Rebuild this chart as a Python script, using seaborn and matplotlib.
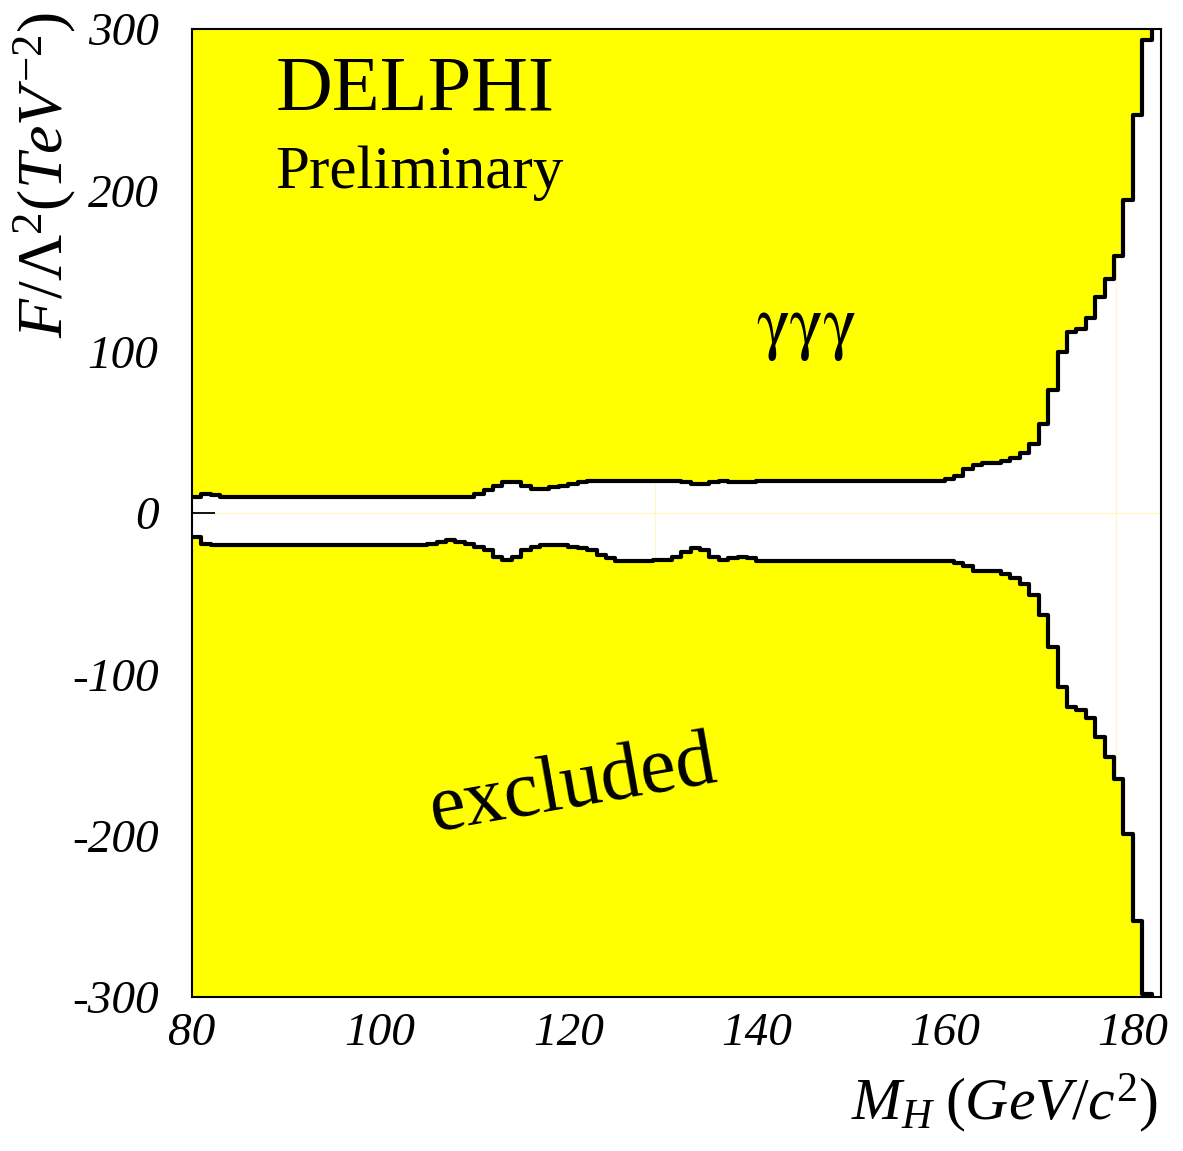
import numpy as np
import pandas as pd
import seaborn as sns
import matplotlib
matplotlib.use("Agg")
import matplotlib.pyplot as plt
from matplotlib.ticker import MultipleLocator

# Higgs mass bins (lower bin edge, GeV/c^2); last entry closes the histogram
MASS = list(range(80, 183))

# upper edge of the allowed band, F/Lambda^2 in TeV^-2 (400 = off scale)
UPPER = [10, 12, 11, 10, 10, 10, 10, 10, 10, 10,
         10, 10, 10, 10, 10, 10, 10, 10, 10, 10,
         10, 10, 10, 10, 10, 10, 10, 10, 10, 10,
         12, 14, 17, 19, 19, 17, 15, 15, 16, 17,
         18, 19, 20, 20, 20, 20, 20, 20, 20, 20,
         20, 20, 19, 18, 18, 19, 20, 19, 19, 19,
         20, 20, 20, 20, 20, 20, 20, 20, 20, 20,
         20, 20, 20, 20, 20, 20, 20, 20, 20, 20,
         21, 23, 27, 30, 31, 31, 32, 34, 37, 43,
         55, 76, 100, 112, 114, 121, 134, 145, 159, 194,
         247, 293, 400]

# lower edge of the allowed band
LOWER = [-15, -19, -20, -20, -20, -20, -20, -20, -20, -20,
         -20, -20, -20, -20, -20, -20, -20, -20, -20, -20,
         -20, -20, -20, -20, -20, -19, -18, -17, -18, -19,
         -21, -23, -27, -29, -27, -23, -21, -20, -20, -20,
         -21, -22, -23, -26, -28, -30, -30, -30, -30, -29,
         -29, -27, -24, -22, -23, -27, -29, -28, -27, -28,
         -30, -30, -30, -30, -30, -30, -30, -30, -30, -30,
         -30, -30, -30, -30, -30, -30, -30, -30, -30, -30,
         -30, -31, -33, -36, -36, -36, -38, -40, -44, -51,
         -63, -83, -108, -120, -122, -127, -139, -151, -165, -199,
         -253, -298, -400]

X_TICKS = [80, 100, 120, 140, 160, 180]
Y_TICKS = [-300, -200, -100, 0, 100, 200, 300]

YELLOW = "#ffff00"


def main():
    sns.set_style("ticks")
    plt.rcParams["font.family"] = ["Liberation Serif", "DejaVu Serif"]
    plt.rcParams["mathtext.fontset"] = "custom"
    plt.rcParams["mathtext.rm"] = "Liberation Serif"
    plt.rcParams["mathtext.it"] = "Liberation Serif:italic"
    plt.rcParams["mathtext.bf"] = "Liberation Serif:bold"
    plt.rcParams["axes.unicode_minus"] = False
    plt.rcParams["text.color"] = "black"
    plt.rcParams["axes.labelcolor"] = "black"
    plt.rcParams["xtick.color"] = "black"
    plt.rcParams["ytick.color"] = "black"

    df = pd.DataFrame({"mass": MASS, "upper": UPPER, "lower": LOWER})

    fig = plt.figure(figsize=(11.83, 11.51), dpi=100)
    ax = fig.add_axes([0.1623, 0.1338, 0.9814 - 0.1623, 0.9748 - 0.1338])

    # faint lines visible in the white band
    ax.axhline(0, color="#fff6c8", lw=1, zorder=0.5)
    for xv in [129.2, 178.2]:
        ax.axvline(xv, color="#fff6c8", lw=1, zorder=0.5)

    # excluded regions
    ax.fill_between(df["mass"], df["upper"], 400, step="post",
                    color=YELLOW, lw=0, zorder=1)
    ax.fill_between(df["mass"], -400, df["lower"], step="post",
                    color=YELLOW, lw=0, zorder=1)

    sns.lineplot(data=df, x="mass", y="upper", ax=ax, color="black", lw=3,
                 drawstyle="steps-post", estimator=None, sort=False, zorder=3)
    sns.lineplot(data=df, x="mass", y="lower", ax=ax, color="black", lw=3,
                 drawstyle="steps-post", estimator=None, sort=False, zorder=3)

    ax.set_xlim(80, 183)
    ax.set_ylim(-300, 300)
    ax.set_xlabel("")
    ax.set_ylabel("")

    ax.set_xticks(X_TICKS)
    ax.set_yticks(Y_TICKS)
    ax.xaxis.set_minor_locator(MultipleLocator(5))
    ax.yaxis.set_minor_locator(MultipleLocator(20))
    ax.tick_params(axis="both", which="both", direction="in", width=1.3,
                   top=False, right=False, colors="black")
    ax.tick_params(axis="x", which="major", length=16.5, pad=11)
    ax.tick_params(axis="x", which="minor", length=16.5)
    ax.tick_params(axis="y", which="major", length=16.5, pad=24)
    ax.tick_params(axis="y", which="minor", length=8.3)
    for lab in ax.get_xticklabels() + ax.get_yticklabels():
        lab.set_fontstyle("italic")
        lab.set_fontsize(34)
        lab.set_color("black")
    for sp in ax.spines.values():
        sp.set_linewidth(1.5)
        sp.set_color("black")
        sp.set_zorder(5)

    # annotations
    ax.text(88.9, 250, "DELPHI", fontsize=56.5, ha="left", va="baseline",
            color="black")
    ax.text(88.9, 201.5, "Preliminary", fontsize=44, ha="left",
            va="baseline", color="black")
    ax.text(140.0, 104, "γγγ", fontsize=51, ha="left", va="baseline",
            family=["STIXGeneral", "DejaVu Serif"], color="black")
    ax.text(105.7, -197, "excluded", fontsize=58, rotation=10,
            rotation_mode="anchor", ha="left", va="baseline", color="black")

    fig.text(0.038, 0.9887, r"$F/\Lambda^2(TeV^{-2})$", fontsize=46,
             rotation=90, ha="center", va="top", color="black")
    fig.text(0.979, 0.0269, r"$M_H\;(GeV/c^2)$", fontsize=43,
             ha="right", va="baseline", color="black")

    fig.savefig("out.png", dpi=100, facecolor="white")


if __name__ == "__main__":
    main()
